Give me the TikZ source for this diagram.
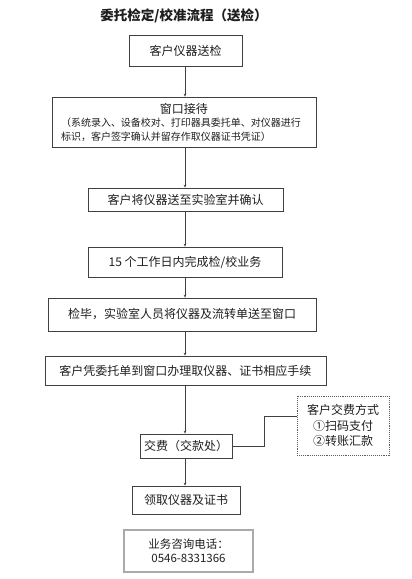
\documentclass[tikz,border=0pt]{standalone}
\usepackage{fontspec}
\setmainfont{Noto Sans CJK SC}
\usetikzlibrary{arrows.meta, positioning, calc}
\definecolor{edge}{RGB}{64,64,64}
\definecolor{lightedge}{RGB}{170,170,170}
\definecolor{ink}{RGB}{30,30,30}

\begin{document}
\begin{tikzpicture}[x=1pt, y=-1pt,
    procbox/.style={draw=edge, line width=0.8pt, inner sep=0pt, align=center, text=ink,
                    font=\fontsize{12}{14}\selectfont},
    notebox/.style={draw=edge!85, densely dotted, line width=0.9pt, inner sep=0pt, align=center, text=ink,
                    font=\fontsize{12}{15.5}\selectfont},
    infobox/.style={draw=lightedge, line width=1.2pt, inner sep=0pt, align=center, text=ink,
                    font=\fontsize{11.5}{14}\selectfont},
    flow/.style={draw=edge, line width=0.6pt, -{Stealth[length=3pt, width=2.6pt]}}]
  \useasboundingbox (0,0) rectangle (412,579);

  \node[text=ink, font=\fontsize{13.5}{15}\selectfont\bfseries] (title) at (184,16)
    {委托检定/校准流程（送检）};

  \node[procbox, minimum width=113pt, minimum height=31pt] (songjian) at (185.5,50.5)
    {客户仪器送检};
  \node[procbox, minimum width=264pt, minimum height=50pt, text width=246pt, align=left] (jiedai) at (184,122)
    {\hfil 窗口接待\hfil\\[1pt]
     {\fontsize{10}{12}\selectfont （系统录入、设备校对、打印器具委托单、对仪器进行\\标识，客户签字确认并留存作取仪器证书凭证）}};
  \node[procbox, minimum width=195pt, minimum height=23pt] (songshi) at (185.5,199.5)
    {客户将仪器送至实验室并确认};
  \node[procbox, minimum width=194pt, minimum height=30pt] (wancheng) at (185,262)
    {15 个工作日内完成检/校业务};
  \node[procbox, minimum width=268pt, minimum height=33pt] (jianbi) at (182,314.5)
    {检毕，实验室人员将仪器及流转单送至窗口};
  \node[procbox, minimum width=281pt, minimum height=29pt] (banli) at (185.5,370.5)
    {客户凭委托单到窗口办理取仪器、证书相应手续};
  \node[procbox, minimum width=92pt, minimum height=24pt] (jiaofei) at (186,446)
    {交费（交款处）};
  \node[notebox, minimum width=92pt, minimum height=59pt] (fangshi) at (343,425.5)
    {客户交费方式\\①扫码支付\\②转账汇款};
  \node[procbox, minimum width=108pt, minimum height=28pt] (lingqu) at (186,500)
    {领取仪器及证书};
  \node[infobox, minimum width=129pt, minimum height=42pt] (dianhua) at (188.5,551)
    {业务咨询电话：\\0546-8331366};

  % main flow
  \draw[flow] (185,0 |- songjian.south) -- (185,0 |- jiedai.north);
  \draw[flow] (185,0 |- jiedai.south) -- (185,0 |- songshi.north);
  \draw[flow] (185,0 |- songshi.south) -- (185,0 |- wancheng.north);
  \draw[flow] (185,0 |- wancheng.south) -- (185,0 |- jianbi.north);
  \draw[flow] (185,0 |- jianbi.south) -- (185,0 |- banli.north);
  \draw[flow] (185,0 |- banli.south) -- (185,0 |- jiaofei.north);
  \draw[flow] (185,0 |- jiaofei.south) -- (185,0 |- lingqu.north);

  % payment note
  \draw[draw=edge, line width=0.6pt] (jiaofei.east) -- ++(32,0) |- ([yshift=9.5pt]fangshi.west);
\end{tikzpicture}
\end{document}
